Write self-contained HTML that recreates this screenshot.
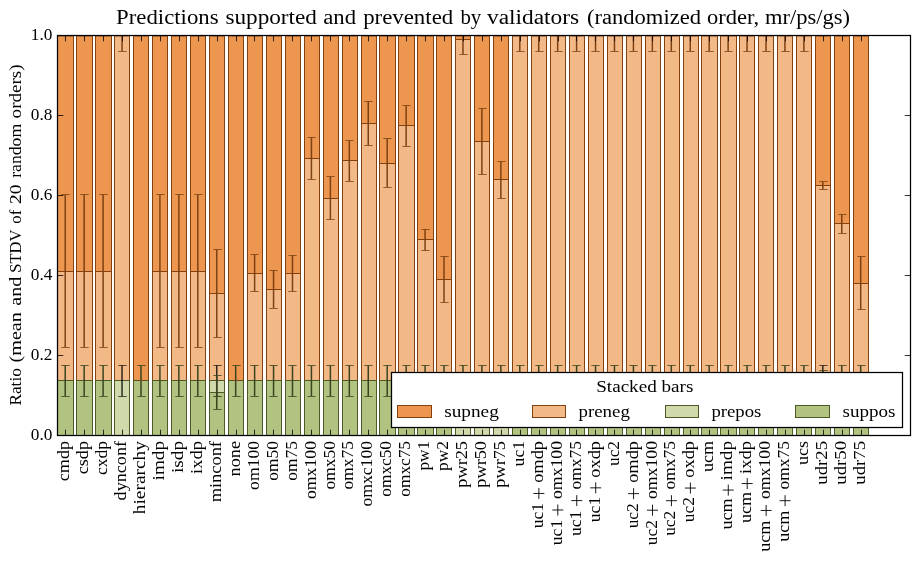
<!DOCTYPE html>
<html><head><meta charset="utf-8"><title>chart</title>
<style>html,body{margin:0;padding:0;background:#fff;}svg{display:block;}text{font-family:"Liberation Serif",serif;fill:#000;}</style></head><body>
<svg width="919" height="562" viewBox="0 0 919 562">
<rect x="0" y="0" width="919" height="562" fill="#fff"/>
<defs><clipPath id="ax"><rect x="57.50" y="35.50" width="853.00" height="400.00"/></clipPath></defs>
<g clip-path="url(#ax)">
<rect x="57.5" y="35.9" width="16.0" height="235.6" fill="#EC9650" stroke="#82410F" stroke-width="1"/>
<rect x="57.5" y="271.5" width="16.0" height="109.0" fill="#F2B987" stroke="#82410F" stroke-width="1"/>
<rect x="57.5" y="380.5" width="16.0" height="55.0" fill="#B2C280" stroke="#4C5A28" stroke-width="1"/>
<rect x="76.5" y="35.9" width="16.0" height="235.6" fill="#EC9650" stroke="#82410F" stroke-width="1"/>
<rect x="76.5" y="271.5" width="16.0" height="109.0" fill="#F2B987" stroke="#82410F" stroke-width="1"/>
<rect x="76.5" y="380.5" width="16.0" height="55.0" fill="#B2C280" stroke="#4C5A28" stroke-width="1"/>
<rect x="95.5" y="35.9" width="16.0" height="235.6" fill="#EC9650" stroke="#82410F" stroke-width="1"/>
<rect x="95.5" y="271.5" width="16.0" height="109.0" fill="#F2B987" stroke="#82410F" stroke-width="1"/>
<rect x="95.5" y="380.5" width="16.0" height="55.0" fill="#B2C280" stroke="#4C5A28" stroke-width="1"/>
<rect x="114.5" y="35.9" width="15.0" height="344.6" fill="#F2B987" stroke="#82410F" stroke-width="1"/>
<rect x="114.5" y="380.5" width="15.0" height="55.0" fill="#D0D9AC" stroke="#4C5A28" stroke-width="1"/>
<rect x="133.5" y="35.9" width="15.0" height="344.6" fill="#EC9650" stroke="#82410F" stroke-width="1"/>
<rect x="133.5" y="380.5" width="15.0" height="55.0" fill="#B2C280" stroke="#4C5A28" stroke-width="1"/>
<rect x="152.5" y="35.9" width="15.0" height="235.6" fill="#EC9650" stroke="#82410F" stroke-width="1"/>
<rect x="152.5" y="271.5" width="15.0" height="109.0" fill="#F2B987" stroke="#82410F" stroke-width="1"/>
<rect x="152.5" y="380.5" width="15.0" height="55.0" fill="#B2C280" stroke="#4C5A28" stroke-width="1"/>
<rect x="171.5" y="35.9" width="15.0" height="235.6" fill="#EC9650" stroke="#82410F" stroke-width="1"/>
<rect x="171.5" y="271.5" width="15.0" height="109.0" fill="#F2B987" stroke="#82410F" stroke-width="1"/>
<rect x="171.5" y="380.5" width="15.0" height="55.0" fill="#B2C280" stroke="#4C5A28" stroke-width="1"/>
<rect x="190.5" y="35.9" width="15.0" height="235.6" fill="#EC9650" stroke="#82410F" stroke-width="1"/>
<rect x="190.5" y="271.5" width="15.0" height="109.0" fill="#F2B987" stroke="#82410F" stroke-width="1"/>
<rect x="190.5" y="380.5" width="15.0" height="55.0" fill="#B2C280" stroke="#4C5A28" stroke-width="1"/>
<rect x="209.5" y="35.9" width="15.0" height="257.6" fill="#EC9650" stroke="#82410F" stroke-width="1"/>
<rect x="209.5" y="293.5" width="15.0" height="87.0" fill="#F2B987" stroke="#82410F" stroke-width="1"/>
<rect x="209.5" y="392.5" width="15.0" height="43.0" fill="#B2C280" stroke="#4C5A28" stroke-width="1"/>
<rect x="209.5" y="380.5" width="15.0" height="12.0" fill="#D0D9AC" stroke="#4C5A28" stroke-width="1"/>
<rect x="228.5" y="35.9" width="15.0" height="344.6" fill="#EC9650" stroke="#82410F" stroke-width="1"/>
<rect x="228.5" y="380.5" width="15.0" height="55.0" fill="#B2C280" stroke="#4C5A28" stroke-width="1"/>
<rect x="247.5" y="35.9" width="15.0" height="237.6" fill="#EC9650" stroke="#82410F" stroke-width="1"/>
<rect x="247.5" y="273.5" width="15.0" height="107.0" fill="#F2B987" stroke="#82410F" stroke-width="1"/>
<rect x="247.5" y="380.5" width="15.0" height="55.0" fill="#B2C280" stroke="#4C5A28" stroke-width="1"/>
<rect x="266.5" y="35.9" width="15.0" height="253.6" fill="#EC9650" stroke="#82410F" stroke-width="1"/>
<rect x="266.5" y="289.5" width="15.0" height="91.0" fill="#F2B987" stroke="#82410F" stroke-width="1"/>
<rect x="266.5" y="380.5" width="15.0" height="55.0" fill="#B2C280" stroke="#4C5A28" stroke-width="1"/>
<rect x="285.5" y="35.9" width="15.0" height="237.6" fill="#EC9650" stroke="#82410F" stroke-width="1"/>
<rect x="285.5" y="273.5" width="15.0" height="107.0" fill="#F2B987" stroke="#82410F" stroke-width="1"/>
<rect x="285.5" y="380.5" width="15.0" height="55.0" fill="#B2C280" stroke="#4C5A28" stroke-width="1"/>
<rect x="304.5" y="35.9" width="15.0" height="122.6" fill="#EC9650" stroke="#82410F" stroke-width="1"/>
<rect x="304.5" y="158.5" width="15.0" height="222.0" fill="#F2B987" stroke="#82410F" stroke-width="1"/>
<rect x="304.5" y="380.5" width="15.0" height="55.0" fill="#B2C280" stroke="#4C5A28" stroke-width="1"/>
<rect x="323.5" y="35.9" width="15.0" height="162.6" fill="#EC9650" stroke="#82410F" stroke-width="1"/>
<rect x="323.5" y="198.5" width="15.0" height="182.0" fill="#F2B987" stroke="#82410F" stroke-width="1"/>
<rect x="323.5" y="380.5" width="15.0" height="55.0" fill="#B2C280" stroke="#4C5A28" stroke-width="1"/>
<rect x="342.5" y="35.9" width="15.0" height="124.6" fill="#EC9650" stroke="#82410F" stroke-width="1"/>
<rect x="342.5" y="160.5" width="15.0" height="220.0" fill="#F2B987" stroke="#82410F" stroke-width="1"/>
<rect x="342.5" y="380.5" width="15.0" height="55.0" fill="#B2C280" stroke="#4C5A28" stroke-width="1"/>
<rect x="361.5" y="35.9" width="15.0" height="87.6" fill="#EC9650" stroke="#82410F" stroke-width="1"/>
<rect x="361.5" y="123.5" width="15.0" height="257.0" fill="#F2B987" stroke="#82410F" stroke-width="1"/>
<rect x="361.5" y="380.5" width="15.0" height="55.0" fill="#B2C280" stroke="#4C5A28" stroke-width="1"/>
<rect x="379.5" y="35.9" width="16.0" height="127.6" fill="#EC9650" stroke="#82410F" stroke-width="1"/>
<rect x="379.5" y="163.5" width="16.0" height="217.0" fill="#F2B987" stroke="#82410F" stroke-width="1"/>
<rect x="379.5" y="380.5" width="16.0" height="55.0" fill="#B2C280" stroke="#4C5A28" stroke-width="1"/>
<rect x="398.5" y="35.9" width="16.0" height="89.6" fill="#EC9650" stroke="#82410F" stroke-width="1"/>
<rect x="398.5" y="125.5" width="16.0" height="255.0" fill="#F2B987" stroke="#82410F" stroke-width="1"/>
<rect x="398.5" y="380.5" width="16.0" height="55.0" fill="#B2C280" stroke="#4C5A28" stroke-width="1"/>
<rect x="417.5" y="35.9" width="16.0" height="203.6" fill="#EC9650" stroke="#82410F" stroke-width="1"/>
<rect x="417.5" y="239.5" width="16.0" height="141.0" fill="#F2B987" stroke="#82410F" stroke-width="1"/>
<rect x="417.5" y="380.5" width="16.0" height="55.0" fill="#B2C280" stroke="#4C5A28" stroke-width="1"/>
<rect x="436.5" y="35.9" width="15.0" height="243.6" fill="#EC9650" stroke="#82410F" stroke-width="1"/>
<rect x="436.5" y="279.5" width="15.0" height="101.0" fill="#F2B987" stroke="#82410F" stroke-width="1"/>
<rect x="436.5" y="380.5" width="15.0" height="55.0" fill="#B2C280" stroke="#4C5A28" stroke-width="1"/>
<rect x="455.5" y="35.9" width="15.0" height="3.6" fill="#EC9650" stroke="#82410F" stroke-width="1"/>
<rect x="455.5" y="39.5" width="15.0" height="341.0" fill="#F2B987" stroke="#82410F" stroke-width="1"/>
<rect x="455.5" y="380.5" width="15.0" height="55.0" fill="#D0D9AC" stroke="#4C5A28" stroke-width="1"/>
<rect x="474.5" y="35.9" width="15.0" height="105.6" fill="#EC9650" stroke="#82410F" stroke-width="1"/>
<rect x="474.5" y="141.5" width="15.0" height="239.0" fill="#F2B987" stroke="#82410F" stroke-width="1"/>
<rect x="474.5" y="380.5" width="15.0" height="55.0" fill="#D0D9AC" stroke="#4C5A28" stroke-width="1"/>
<rect x="493.5" y="35.9" width="15.0" height="143.6" fill="#EC9650" stroke="#82410F" stroke-width="1"/>
<rect x="493.5" y="179.5" width="15.0" height="201.0" fill="#F2B987" stroke="#82410F" stroke-width="1"/>
<rect x="493.5" y="380.5" width="15.0" height="55.0" fill="#D0D9AC" stroke="#4C5A28" stroke-width="1"/>
<rect x="512.5" y="35.9" width="15.0" height="344.6" fill="#F2B987" stroke="#82410F" stroke-width="1"/>
<rect x="512.5" y="380.5" width="15.0" height="55.0" fill="#B2C280" stroke="#4C5A28" stroke-width="1"/>
<rect x="531.5" y="35.9" width="15.0" height="344.6" fill="#F2B987" stroke="#82410F" stroke-width="1"/>
<rect x="531.5" y="380.5" width="15.0" height="55.0" fill="#B2C280" stroke="#4C5A28" stroke-width="1"/>
<rect x="550.5" y="35.9" width="15.0" height="344.6" fill="#F2B987" stroke="#82410F" stroke-width="1"/>
<rect x="550.5" y="380.5" width="15.0" height="55.0" fill="#B2C280" stroke="#4C5A28" stroke-width="1"/>
<rect x="569.5" y="35.9" width="15.0" height="344.6" fill="#F2B987" stroke="#82410F" stroke-width="1"/>
<rect x="569.5" y="380.5" width="15.0" height="55.0" fill="#B2C280" stroke="#4C5A28" stroke-width="1"/>
<rect x="588.5" y="35.9" width="15.0" height="344.6" fill="#F2B987" stroke="#82410F" stroke-width="1"/>
<rect x="588.5" y="380.5" width="15.0" height="55.0" fill="#B2C280" stroke="#4C5A28" stroke-width="1"/>
<rect x="607.5" y="35.9" width="15.0" height="344.6" fill="#F2B987" stroke="#82410F" stroke-width="1"/>
<rect x="607.5" y="380.5" width="15.0" height="55.0" fill="#B2C280" stroke="#4C5A28" stroke-width="1"/>
<rect x="626.5" y="35.9" width="15.0" height="344.6" fill="#F2B987" stroke="#82410F" stroke-width="1"/>
<rect x="626.5" y="380.5" width="15.0" height="55.0" fill="#B2C280" stroke="#4C5A28" stroke-width="1"/>
<rect x="645.5" y="35.9" width="15.0" height="344.6" fill="#F2B987" stroke="#82410F" stroke-width="1"/>
<rect x="645.5" y="380.5" width="15.0" height="55.0" fill="#B2C280" stroke="#4C5A28" stroke-width="1"/>
<rect x="664.5" y="35.9" width="15.0" height="344.6" fill="#F2B987" stroke="#82410F" stroke-width="1"/>
<rect x="664.5" y="380.5" width="15.0" height="55.0" fill="#B2C280" stroke="#4C5A28" stroke-width="1"/>
<rect x="683.5" y="35.9" width="15.0" height="344.6" fill="#F2B987" stroke="#82410F" stroke-width="1"/>
<rect x="683.5" y="380.5" width="15.0" height="55.0" fill="#B2C280" stroke="#4C5A28" stroke-width="1"/>
<rect x="701.5" y="35.9" width="16.0" height="344.6" fill="#F2B987" stroke="#82410F" stroke-width="1"/>
<rect x="701.5" y="380.5" width="16.0" height="55.0" fill="#B2C280" stroke="#4C5A28" stroke-width="1"/>
<rect x="720.5" y="35.9" width="16.0" height="344.6" fill="#F2B987" stroke="#82410F" stroke-width="1"/>
<rect x="720.5" y="380.5" width="16.0" height="55.0" fill="#B2C280" stroke="#4C5A28" stroke-width="1"/>
<rect x="739.5" y="35.9" width="15.0" height="344.6" fill="#F2B987" stroke="#82410F" stroke-width="1"/>
<rect x="739.5" y="380.5" width="15.0" height="55.0" fill="#B2C280" stroke="#4C5A28" stroke-width="1"/>
<rect x="758.5" y="35.9" width="15.0" height="344.6" fill="#F2B987" stroke="#82410F" stroke-width="1"/>
<rect x="758.5" y="380.5" width="15.0" height="55.0" fill="#B2C280" stroke="#4C5A28" stroke-width="1"/>
<rect x="777.5" y="35.9" width="15.0" height="344.6" fill="#F2B987" stroke="#82410F" stroke-width="1"/>
<rect x="777.5" y="380.5" width="15.0" height="55.0" fill="#B2C280" stroke="#4C5A28" stroke-width="1"/>
<rect x="796.5" y="35.9" width="15.0" height="344.6" fill="#F2B987" stroke="#82410F" stroke-width="1"/>
<rect x="796.5" y="380.5" width="15.0" height="55.0" fill="#B2C280" stroke="#4C5A28" stroke-width="1"/>
<rect x="815.5" y="35.9" width="15.0" height="149.6" fill="#EC9650" stroke="#82410F" stroke-width="1"/>
<rect x="815.5" y="185.5" width="15.0" height="195.0" fill="#F2B987" stroke="#82410F" stroke-width="1"/>
<rect x="815.5" y="380.5" width="15.0" height="55.0" fill="#B2C280" stroke="#4C5A28" stroke-width="1"/>
<rect x="834.5" y="35.9" width="15.0" height="187.6" fill="#EC9650" stroke="#82410F" stroke-width="1"/>
<rect x="834.5" y="223.5" width="15.0" height="157.0" fill="#F2B987" stroke="#82410F" stroke-width="1"/>
<rect x="834.5" y="380.5" width="15.0" height="55.0" fill="#B2C280" stroke="#4C5A28" stroke-width="1"/>
<rect x="853.5" y="35.9" width="15.0" height="247.6" fill="#EC9650" stroke="#82410F" stroke-width="1"/>
<rect x="853.5" y="283.5" width="15.0" height="97.0" fill="#F2B987" stroke="#82410F" stroke-width="1"/>
<rect x="853.5" y="380.5" width="15.0" height="55.0" fill="#B2C280" stroke="#4C5A28" stroke-width="1"/>
<line x1="65.22" y1="365.4" x2="65.22" y2="396.3" stroke="#3A4520" stroke-width="1.50"/>
<line x1="61.3" y1="365.5" x2="69.7" y2="365.5" stroke="#3A4520" stroke-width="0.8"/>
<line x1="61.3" y1="396.5" x2="69.7" y2="396.5" stroke="#3A4520" stroke-width="0.8"/>
<line x1="65.22" y1="194.5" x2="65.22" y2="347.3" stroke="#7E4212" stroke-width="1.50"/>
<line x1="61.3" y1="194.5" x2="69.7" y2="194.5" stroke="#7E4212" stroke-width="0.8"/>
<line x1="61.3" y1="347.5" x2="69.7" y2="347.5" stroke="#7E4212" stroke-width="0.8"/>
<line x1="84.16" y1="365.4" x2="84.16" y2="396.3" stroke="#3A4520" stroke-width="1.50"/>
<line x1="80.3" y1="365.5" x2="88.7" y2="365.5" stroke="#3A4520" stroke-width="0.8"/>
<line x1="80.3" y1="396.5" x2="88.7" y2="396.5" stroke="#3A4520" stroke-width="0.8"/>
<line x1="84.16" y1="194.5" x2="84.16" y2="347.3" stroke="#7E4212" stroke-width="1.50"/>
<line x1="80.3" y1="194.5" x2="88.7" y2="194.5" stroke="#7E4212" stroke-width="0.8"/>
<line x1="80.3" y1="347.5" x2="88.7" y2="347.5" stroke="#7E4212" stroke-width="0.8"/>
<line x1="103.10" y1="365.4" x2="103.10" y2="396.3" stroke="#3A4520" stroke-width="1.50"/>
<line x1="99.3" y1="365.5" x2="107.7" y2="365.5" stroke="#3A4520" stroke-width="0.8"/>
<line x1="99.3" y1="396.5" x2="107.7" y2="396.5" stroke="#3A4520" stroke-width="0.8"/>
<line x1="103.10" y1="194.5" x2="103.10" y2="347.3" stroke="#7E4212" stroke-width="1.50"/>
<line x1="99.3" y1="194.5" x2="107.7" y2="194.5" stroke="#7E4212" stroke-width="0.8"/>
<line x1="99.3" y1="347.5" x2="107.7" y2="347.5" stroke="#7E4212" stroke-width="0.8"/>
<line x1="122.04" y1="365.4" x2="122.04" y2="396.3" stroke="rgba(0,0,0,0.8)" stroke-width="1.50"/>
<line x1="118.3" y1="365.5" x2="126.7" y2="365.5" stroke="rgba(0,0,0,0.8)" stroke-width="0.8"/>
<line x1="118.3" y1="396.5" x2="126.7" y2="396.5" stroke="rgba(0,0,0,0.8)" stroke-width="0.8"/>
<line x1="122.04" y1="19.0" x2="122.04" y2="51.2" stroke="#7E4212" stroke-width="1.50"/>
<line x1="118.3" y1="19.5" x2="126.7" y2="19.5" stroke="#7E4212" stroke-width="0.8"/>
<line x1="118.3" y1="51.5" x2="126.7" y2="51.5" stroke="#7E4212" stroke-width="0.8"/>
<line x1="140.98" y1="365.4" x2="140.98" y2="396.3" stroke="#3A4520" stroke-width="1.50"/>
<line x1="137.3" y1="365.5" x2="145.7" y2="365.5" stroke="#3A4520" stroke-width="0.8"/>
<line x1="137.3" y1="396.5" x2="145.7" y2="396.5" stroke="#3A4520" stroke-width="0.8"/>
<line x1="137.3" y1="380.5" x2="145.7" y2="380.5" stroke="#7E4212" stroke-width="0.8"/>
<line x1="159.92" y1="365.4" x2="159.92" y2="396.3" stroke="#3A4520" stroke-width="1.50"/>
<line x1="156.3" y1="365.5" x2="164.7" y2="365.5" stroke="#3A4520" stroke-width="0.8"/>
<line x1="156.3" y1="396.5" x2="164.7" y2="396.5" stroke="#3A4520" stroke-width="0.8"/>
<line x1="159.92" y1="194.5" x2="159.92" y2="347.3" stroke="#7E4212" stroke-width="1.50"/>
<line x1="156.3" y1="194.5" x2="164.7" y2="194.5" stroke="#7E4212" stroke-width="0.8"/>
<line x1="156.3" y1="347.5" x2="164.7" y2="347.5" stroke="#7E4212" stroke-width="0.8"/>
<line x1="178.86" y1="365.4" x2="178.86" y2="396.3" stroke="#3A4520" stroke-width="1.50"/>
<line x1="175.3" y1="365.5" x2="183.7" y2="365.5" stroke="#3A4520" stroke-width="0.8"/>
<line x1="175.3" y1="396.5" x2="183.7" y2="396.5" stroke="#3A4520" stroke-width="0.8"/>
<line x1="178.86" y1="194.5" x2="178.86" y2="347.3" stroke="#7E4212" stroke-width="1.50"/>
<line x1="175.3" y1="194.5" x2="183.7" y2="194.5" stroke="#7E4212" stroke-width="0.8"/>
<line x1="175.3" y1="347.5" x2="183.7" y2="347.5" stroke="#7E4212" stroke-width="0.8"/>
<line x1="197.80" y1="365.4" x2="197.80" y2="396.3" stroke="#3A4520" stroke-width="1.50"/>
<line x1="194.3" y1="365.5" x2="202.7" y2="365.5" stroke="#3A4520" stroke-width="0.8"/>
<line x1="194.3" y1="396.5" x2="202.7" y2="396.5" stroke="#3A4520" stroke-width="0.8"/>
<line x1="197.80" y1="194.5" x2="197.80" y2="347.3" stroke="#7E4212" stroke-width="1.50"/>
<line x1="194.3" y1="194.5" x2="202.7" y2="194.5" stroke="#7E4212" stroke-width="0.8"/>
<line x1="194.3" y1="347.5" x2="202.7" y2="347.5" stroke="#7E4212" stroke-width="0.8"/>
<line x1="216.74" y1="365.4" x2="216.74" y2="396.3" stroke="rgba(0,0,0,0.8)" stroke-width="1.50"/>
<line x1="213.3" y1="365.5" x2="221.7" y2="365.5" stroke="rgba(0,0,0,0.8)" stroke-width="0.8"/>
<line x1="213.3" y1="396.5" x2="221.7" y2="396.5" stroke="rgba(0,0,0,0.8)" stroke-width="0.8"/>
<line x1="216.74" y1="375.4" x2="216.74" y2="409.2" stroke="#3A4520" stroke-width="1.50"/>
<line x1="213.3" y1="375.5" x2="221.7" y2="375.5" stroke="#3A4520" stroke-width="0.8"/>
<line x1="213.3" y1="409.5" x2="221.7" y2="409.5" stroke="#3A4520" stroke-width="0.8"/>
<line x1="216.74" y1="249.4" x2="216.74" y2="337.4" stroke="#7E4212" stroke-width="1.50"/>
<line x1="213.3" y1="249.5" x2="221.7" y2="249.5" stroke="#7E4212" stroke-width="0.8"/>
<line x1="213.3" y1="337.5" x2="221.7" y2="337.5" stroke="#7E4212" stroke-width="0.8"/>
<line x1="235.68" y1="365.4" x2="235.68" y2="396.3" stroke="#3A4520" stroke-width="1.50"/>
<line x1="232.3" y1="365.5" x2="240.7" y2="365.5" stroke="#3A4520" stroke-width="0.8"/>
<line x1="232.3" y1="396.5" x2="240.7" y2="396.5" stroke="#3A4520" stroke-width="0.8"/>
<line x1="232.3" y1="380.5" x2="240.7" y2="380.5" stroke="#7E4212" stroke-width="0.8"/>
<line x1="254.62" y1="365.4" x2="254.62" y2="396.3" stroke="#3A4520" stroke-width="1.50"/>
<line x1="250.3" y1="365.5" x2="258.7" y2="365.5" stroke="#3A4520" stroke-width="0.8"/>
<line x1="250.3" y1="396.5" x2="258.7" y2="396.5" stroke="#3A4520" stroke-width="0.8"/>
<line x1="254.62" y1="254.4" x2="254.62" y2="291.2" stroke="#7E4212" stroke-width="1.50"/>
<line x1="250.3" y1="254.5" x2="258.7" y2="254.5" stroke="#7E4212" stroke-width="0.8"/>
<line x1="250.3" y1="291.5" x2="258.7" y2="291.5" stroke="#7E4212" stroke-width="0.8"/>
<line x1="273.56" y1="365.4" x2="273.56" y2="396.3" stroke="#3A4520" stroke-width="1.50"/>
<line x1="269.3" y1="365.5" x2="277.7" y2="365.5" stroke="#3A4520" stroke-width="0.8"/>
<line x1="269.3" y1="396.5" x2="277.7" y2="396.5" stroke="#3A4520" stroke-width="0.8"/>
<line x1="273.56" y1="270.3" x2="273.56" y2="308.1" stroke="#7E4212" stroke-width="1.50"/>
<line x1="269.3" y1="270.5" x2="277.7" y2="270.5" stroke="#7E4212" stroke-width="0.8"/>
<line x1="269.3" y1="308.5" x2="277.7" y2="308.5" stroke="#7E4212" stroke-width="0.8"/>
<line x1="292.50" y1="365.4" x2="292.50" y2="396.3" stroke="#3A4520" stroke-width="1.50"/>
<line x1="288.3" y1="365.5" x2="296.7" y2="365.5" stroke="#3A4520" stroke-width="0.8"/>
<line x1="288.3" y1="396.5" x2="296.7" y2="396.5" stroke="#3A4520" stroke-width="0.8"/>
<line x1="292.50" y1="255.0" x2="292.50" y2="291.2" stroke="#7E4212" stroke-width="1.50"/>
<line x1="288.3" y1="255.5" x2="296.7" y2="255.5" stroke="#7E4212" stroke-width="0.8"/>
<line x1="288.3" y1="291.5" x2="296.7" y2="291.5" stroke="#7E4212" stroke-width="0.8"/>
<line x1="311.44" y1="365.4" x2="311.44" y2="396.3" stroke="#3A4520" stroke-width="1.50"/>
<line x1="307.3" y1="365.5" x2="315.7" y2="365.5" stroke="#3A4520" stroke-width="0.8"/>
<line x1="307.3" y1="396.5" x2="315.7" y2="396.5" stroke="#3A4520" stroke-width="0.8"/>
<line x1="311.44" y1="137.2" x2="311.44" y2="179.2" stroke="#7E4212" stroke-width="1.50"/>
<line x1="307.3" y1="137.5" x2="315.7" y2="137.5" stroke="#7E4212" stroke-width="0.8"/>
<line x1="307.3" y1="179.5" x2="315.7" y2="179.5" stroke="#7E4212" stroke-width="0.8"/>
<line x1="330.38" y1="365.4" x2="330.38" y2="396.3" stroke="#3A4520" stroke-width="1.50"/>
<line x1="326.3" y1="365.5" x2="334.7" y2="365.5" stroke="#3A4520" stroke-width="0.8"/>
<line x1="326.3" y1="396.5" x2="334.7" y2="396.5" stroke="#3A4520" stroke-width="0.8"/>
<line x1="330.38" y1="176.4" x2="330.38" y2="219.6" stroke="#7E4212" stroke-width="1.50"/>
<line x1="326.3" y1="176.5" x2="334.7" y2="176.5" stroke="#7E4212" stroke-width="0.8"/>
<line x1="326.3" y1="219.5" x2="334.7" y2="219.5" stroke="#7E4212" stroke-width="0.8"/>
<line x1="349.32" y1="365.4" x2="349.32" y2="396.3" stroke="#3A4520" stroke-width="1.50"/>
<line x1="345.3" y1="365.5" x2="353.7" y2="365.5" stroke="#3A4520" stroke-width="0.8"/>
<line x1="345.3" y1="396.5" x2="353.7" y2="396.5" stroke="#3A4520" stroke-width="0.8"/>
<line x1="349.32" y1="140.5" x2="349.32" y2="181.2" stroke="#7E4212" stroke-width="1.50"/>
<line x1="345.3" y1="140.5" x2="353.7" y2="140.5" stroke="#7E4212" stroke-width="0.8"/>
<line x1="345.3" y1="181.5" x2="353.7" y2="181.5" stroke="#7E4212" stroke-width="0.8"/>
<line x1="368.26" y1="365.4" x2="368.26" y2="396.3" stroke="#3A4520" stroke-width="1.50"/>
<line x1="364.3" y1="365.5" x2="372.7" y2="365.5" stroke="#3A4520" stroke-width="0.8"/>
<line x1="364.3" y1="396.5" x2="372.7" y2="396.5" stroke="#3A4520" stroke-width="0.8"/>
<line x1="368.26" y1="101.3" x2="368.26" y2="145.5" stroke="#7E4212" stroke-width="1.50"/>
<line x1="364.3" y1="101.5" x2="372.7" y2="101.5" stroke="#7E4212" stroke-width="0.8"/>
<line x1="364.3" y1="145.5" x2="372.7" y2="145.5" stroke="#7E4212" stroke-width="0.8"/>
<line x1="387.20" y1="365.4" x2="387.20" y2="396.3" stroke="#3A4520" stroke-width="1.50"/>
<line x1="383.3" y1="365.5" x2="391.7" y2="365.5" stroke="#3A4520" stroke-width="0.8"/>
<line x1="383.3" y1="396.5" x2="391.7" y2="396.5" stroke="#3A4520" stroke-width="0.8"/>
<line x1="387.20" y1="138.3" x2="387.20" y2="187.3" stroke="#7E4212" stroke-width="1.50"/>
<line x1="383.3" y1="138.5" x2="391.7" y2="138.5" stroke="#7E4212" stroke-width="0.8"/>
<line x1="383.3" y1="187.5" x2="391.7" y2="187.5" stroke="#7E4212" stroke-width="0.8"/>
<line x1="406.14" y1="365.4" x2="406.14" y2="396.3" stroke="#3A4520" stroke-width="1.50"/>
<line x1="402.3" y1="365.5" x2="410.7" y2="365.5" stroke="#3A4520" stroke-width="0.8"/>
<line x1="402.3" y1="396.5" x2="410.7" y2="396.5" stroke="#3A4520" stroke-width="0.8"/>
<line x1="406.14" y1="105.2" x2="406.14" y2="146.4" stroke="#7E4212" stroke-width="1.50"/>
<line x1="402.3" y1="105.5" x2="410.7" y2="105.5" stroke="#7E4212" stroke-width="0.8"/>
<line x1="402.3" y1="146.5" x2="410.7" y2="146.5" stroke="#7E4212" stroke-width="0.8"/>
<line x1="425.08" y1="365.4" x2="425.08" y2="396.3" stroke="#3A4520" stroke-width="1.50"/>
<line x1="421.3" y1="365.5" x2="429.7" y2="365.5" stroke="#3A4520" stroke-width="0.8"/>
<line x1="421.3" y1="396.5" x2="429.7" y2="396.5" stroke="#3A4520" stroke-width="0.8"/>
<line x1="425.08" y1="229.2" x2="425.08" y2="250.5" stroke="#7E4212" stroke-width="1.50"/>
<line x1="421.3" y1="229.5" x2="429.7" y2="229.5" stroke="#7E4212" stroke-width="0.8"/>
<line x1="421.3" y1="250.5" x2="429.7" y2="250.5" stroke="#7E4212" stroke-width="0.8"/>
<line x1="444.02" y1="365.4" x2="444.02" y2="396.3" stroke="#3A4520" stroke-width="1.50"/>
<line x1="440.3" y1="365.5" x2="448.7" y2="365.5" stroke="#3A4520" stroke-width="0.8"/>
<line x1="440.3" y1="396.5" x2="448.7" y2="396.5" stroke="#3A4520" stroke-width="0.8"/>
<line x1="444.02" y1="256.4" x2="444.02" y2="302.3" stroke="#7E4212" stroke-width="1.50"/>
<line x1="440.3" y1="256.5" x2="448.7" y2="256.5" stroke="#7E4212" stroke-width="0.8"/>
<line x1="440.3" y1="302.5" x2="448.7" y2="302.5" stroke="#7E4212" stroke-width="0.8"/>
<line x1="462.96" y1="365.4" x2="462.96" y2="396.3" stroke="#3A4520" stroke-width="1.50"/>
<line x1="459.3" y1="365.5" x2="467.7" y2="365.5" stroke="#3A4520" stroke-width="0.8"/>
<line x1="459.3" y1="396.5" x2="467.7" y2="396.5" stroke="#3A4520" stroke-width="0.8"/>
<line x1="462.96" y1="24.0" x2="462.96" y2="54.4" stroke="#7E4212" stroke-width="1.50"/>
<line x1="459.3" y1="24.5" x2="467.7" y2="24.5" stroke="#7E4212" stroke-width="0.8"/>
<line x1="459.3" y1="54.5" x2="467.7" y2="54.5" stroke="#7E4212" stroke-width="0.8"/>
<line x1="481.90" y1="365.4" x2="481.90" y2="396.3" stroke="#3A4520" stroke-width="1.50"/>
<line x1="478.3" y1="365.5" x2="486.7" y2="365.5" stroke="#3A4520" stroke-width="0.8"/>
<line x1="478.3" y1="396.5" x2="486.7" y2="396.5" stroke="#3A4520" stroke-width="0.8"/>
<line x1="481.90" y1="108.3" x2="481.90" y2="174.4" stroke="#7E4212" stroke-width="1.50"/>
<line x1="478.3" y1="108.5" x2="486.7" y2="108.5" stroke="#7E4212" stroke-width="0.8"/>
<line x1="478.3" y1="174.5" x2="486.7" y2="174.5" stroke="#7E4212" stroke-width="0.8"/>
<line x1="500.84" y1="365.4" x2="500.84" y2="396.3" stroke="#3A4520" stroke-width="1.50"/>
<line x1="497.3" y1="365.5" x2="505.7" y2="365.5" stroke="#3A4520" stroke-width="0.8"/>
<line x1="497.3" y1="396.5" x2="505.7" y2="396.5" stroke="#3A4520" stroke-width="0.8"/>
<line x1="500.84" y1="161.4" x2="500.84" y2="198.4" stroke="#7E4212" stroke-width="1.50"/>
<line x1="497.3" y1="161.5" x2="505.7" y2="161.5" stroke="#7E4212" stroke-width="0.8"/>
<line x1="497.3" y1="198.5" x2="505.7" y2="198.5" stroke="#7E4212" stroke-width="0.8"/>
<line x1="519.78" y1="365.4" x2="519.78" y2="396.3" stroke="#3A4520" stroke-width="1.50"/>
<line x1="516.3" y1="365.5" x2="524.7" y2="365.5" stroke="#3A4520" stroke-width="0.8"/>
<line x1="516.3" y1="396.5" x2="524.7" y2="396.5" stroke="#3A4520" stroke-width="0.8"/>
<line x1="519.78" y1="19.0" x2="519.78" y2="51.2" stroke="#7E4212" stroke-width="1.50"/>
<line x1="516.3" y1="19.5" x2="524.7" y2="19.5" stroke="#7E4212" stroke-width="0.8"/>
<line x1="516.3" y1="51.5" x2="524.7" y2="51.5" stroke="#7E4212" stroke-width="0.8"/>
<line x1="538.72" y1="365.4" x2="538.72" y2="396.3" stroke="#3A4520" stroke-width="1.50"/>
<line x1="535.3" y1="365.5" x2="543.7" y2="365.5" stroke="#3A4520" stroke-width="0.8"/>
<line x1="535.3" y1="396.5" x2="543.7" y2="396.5" stroke="#3A4520" stroke-width="0.8"/>
<line x1="538.72" y1="19.0" x2="538.72" y2="51.2" stroke="#7E4212" stroke-width="1.50"/>
<line x1="535.3" y1="19.5" x2="543.7" y2="19.5" stroke="#7E4212" stroke-width="0.8"/>
<line x1="535.3" y1="51.5" x2="543.7" y2="51.5" stroke="#7E4212" stroke-width="0.8"/>
<line x1="557.66" y1="365.4" x2="557.66" y2="396.3" stroke="#3A4520" stroke-width="1.50"/>
<line x1="554.3" y1="365.5" x2="562.7" y2="365.5" stroke="#3A4520" stroke-width="0.8"/>
<line x1="554.3" y1="396.5" x2="562.7" y2="396.5" stroke="#3A4520" stroke-width="0.8"/>
<line x1="557.66" y1="19.0" x2="557.66" y2="51.2" stroke="#7E4212" stroke-width="1.50"/>
<line x1="554.3" y1="19.5" x2="562.7" y2="19.5" stroke="#7E4212" stroke-width="0.8"/>
<line x1="554.3" y1="51.5" x2="562.7" y2="51.5" stroke="#7E4212" stroke-width="0.8"/>
<line x1="576.60" y1="365.4" x2="576.60" y2="396.3" stroke="#3A4520" stroke-width="1.50"/>
<line x1="572.3" y1="365.5" x2="580.7" y2="365.5" stroke="#3A4520" stroke-width="0.8"/>
<line x1="572.3" y1="396.5" x2="580.7" y2="396.5" stroke="#3A4520" stroke-width="0.8"/>
<line x1="576.60" y1="19.0" x2="576.60" y2="51.2" stroke="#7E4212" stroke-width="1.50"/>
<line x1="572.3" y1="19.5" x2="580.7" y2="19.5" stroke="#7E4212" stroke-width="0.8"/>
<line x1="572.3" y1="51.5" x2="580.7" y2="51.5" stroke="#7E4212" stroke-width="0.8"/>
<line x1="595.54" y1="365.4" x2="595.54" y2="396.3" stroke="#3A4520" stroke-width="1.50"/>
<line x1="591.3" y1="365.5" x2="599.7" y2="365.5" stroke="#3A4520" stroke-width="0.8"/>
<line x1="591.3" y1="396.5" x2="599.7" y2="396.5" stroke="#3A4520" stroke-width="0.8"/>
<line x1="595.54" y1="19.0" x2="595.54" y2="51.2" stroke="#7E4212" stroke-width="1.50"/>
<line x1="591.3" y1="19.5" x2="599.7" y2="19.5" stroke="#7E4212" stroke-width="0.8"/>
<line x1="591.3" y1="51.5" x2="599.7" y2="51.5" stroke="#7E4212" stroke-width="0.8"/>
<line x1="614.48" y1="365.4" x2="614.48" y2="396.3" stroke="#3A4520" stroke-width="1.50"/>
<line x1="610.3" y1="365.5" x2="618.7" y2="365.5" stroke="#3A4520" stroke-width="0.8"/>
<line x1="610.3" y1="396.5" x2="618.7" y2="396.5" stroke="#3A4520" stroke-width="0.8"/>
<line x1="614.48" y1="19.0" x2="614.48" y2="51.2" stroke="#7E4212" stroke-width="1.50"/>
<line x1="610.3" y1="19.5" x2="618.7" y2="19.5" stroke="#7E4212" stroke-width="0.8"/>
<line x1="610.3" y1="51.5" x2="618.7" y2="51.5" stroke="#7E4212" stroke-width="0.8"/>
<line x1="633.42" y1="365.4" x2="633.42" y2="396.3" stroke="#3A4520" stroke-width="1.50"/>
<line x1="629.3" y1="365.5" x2="637.7" y2="365.5" stroke="#3A4520" stroke-width="0.8"/>
<line x1="629.3" y1="396.5" x2="637.7" y2="396.5" stroke="#3A4520" stroke-width="0.8"/>
<line x1="633.42" y1="19.0" x2="633.42" y2="51.2" stroke="#7E4212" stroke-width="1.50"/>
<line x1="629.3" y1="19.5" x2="637.7" y2="19.5" stroke="#7E4212" stroke-width="0.8"/>
<line x1="629.3" y1="51.5" x2="637.7" y2="51.5" stroke="#7E4212" stroke-width="0.8"/>
<line x1="652.36" y1="365.4" x2="652.36" y2="396.3" stroke="#3A4520" stroke-width="1.50"/>
<line x1="648.3" y1="365.5" x2="656.7" y2="365.5" stroke="#3A4520" stroke-width="0.8"/>
<line x1="648.3" y1="396.5" x2="656.7" y2="396.5" stroke="#3A4520" stroke-width="0.8"/>
<line x1="652.36" y1="19.0" x2="652.36" y2="51.2" stroke="#7E4212" stroke-width="1.50"/>
<line x1="648.3" y1="19.5" x2="656.7" y2="19.5" stroke="#7E4212" stroke-width="0.8"/>
<line x1="648.3" y1="51.5" x2="656.7" y2="51.5" stroke="#7E4212" stroke-width="0.8"/>
<line x1="671.30" y1="365.4" x2="671.30" y2="396.3" stroke="#3A4520" stroke-width="1.50"/>
<line x1="667.3" y1="365.5" x2="675.7" y2="365.5" stroke="#3A4520" stroke-width="0.8"/>
<line x1="667.3" y1="396.5" x2="675.7" y2="396.5" stroke="#3A4520" stroke-width="0.8"/>
<line x1="671.30" y1="19.0" x2="671.30" y2="51.2" stroke="#7E4212" stroke-width="1.50"/>
<line x1="667.3" y1="19.5" x2="675.7" y2="19.5" stroke="#7E4212" stroke-width="0.8"/>
<line x1="667.3" y1="51.5" x2="675.7" y2="51.5" stroke="#7E4212" stroke-width="0.8"/>
<line x1="690.24" y1="365.4" x2="690.24" y2="396.3" stroke="#3A4520" stroke-width="1.50"/>
<line x1="686.3" y1="365.5" x2="694.7" y2="365.5" stroke="#3A4520" stroke-width="0.8"/>
<line x1="686.3" y1="396.5" x2="694.7" y2="396.5" stroke="#3A4520" stroke-width="0.8"/>
<line x1="690.24" y1="19.0" x2="690.24" y2="51.2" stroke="#7E4212" stroke-width="1.50"/>
<line x1="686.3" y1="19.5" x2="694.7" y2="19.5" stroke="#7E4212" stroke-width="0.8"/>
<line x1="686.3" y1="51.5" x2="694.7" y2="51.5" stroke="#7E4212" stroke-width="0.8"/>
<line x1="709.18" y1="365.4" x2="709.18" y2="396.3" stroke="#3A4520" stroke-width="1.50"/>
<line x1="705.3" y1="365.5" x2="713.7" y2="365.5" stroke="#3A4520" stroke-width="0.8"/>
<line x1="705.3" y1="396.5" x2="713.7" y2="396.5" stroke="#3A4520" stroke-width="0.8"/>
<line x1="709.18" y1="19.0" x2="709.18" y2="51.2" stroke="#7E4212" stroke-width="1.50"/>
<line x1="705.3" y1="19.5" x2="713.7" y2="19.5" stroke="#7E4212" stroke-width="0.8"/>
<line x1="705.3" y1="51.5" x2="713.7" y2="51.5" stroke="#7E4212" stroke-width="0.8"/>
<line x1="728.12" y1="365.4" x2="728.12" y2="396.3" stroke="#3A4520" stroke-width="1.50"/>
<line x1="724.3" y1="365.5" x2="732.7" y2="365.5" stroke="#3A4520" stroke-width="0.8"/>
<line x1="724.3" y1="396.5" x2="732.7" y2="396.5" stroke="#3A4520" stroke-width="0.8"/>
<line x1="728.12" y1="19.0" x2="728.12" y2="51.2" stroke="#7E4212" stroke-width="1.50"/>
<line x1="724.3" y1="19.5" x2="732.7" y2="19.5" stroke="#7E4212" stroke-width="0.8"/>
<line x1="724.3" y1="51.5" x2="732.7" y2="51.5" stroke="#7E4212" stroke-width="0.8"/>
<line x1="747.06" y1="365.4" x2="747.06" y2="396.3" stroke="#3A4520" stroke-width="1.50"/>
<line x1="743.3" y1="365.5" x2="751.7" y2="365.5" stroke="#3A4520" stroke-width="0.8"/>
<line x1="743.3" y1="396.5" x2="751.7" y2="396.5" stroke="#3A4520" stroke-width="0.8"/>
<line x1="747.06" y1="19.0" x2="747.06" y2="51.2" stroke="#7E4212" stroke-width="1.50"/>
<line x1="743.3" y1="19.5" x2="751.7" y2="19.5" stroke="#7E4212" stroke-width="0.8"/>
<line x1="743.3" y1="51.5" x2="751.7" y2="51.5" stroke="#7E4212" stroke-width="0.8"/>
<line x1="766.00" y1="365.4" x2="766.00" y2="396.3" stroke="#3A4520" stroke-width="1.50"/>
<line x1="762.3" y1="365.5" x2="770.7" y2="365.5" stroke="#3A4520" stroke-width="0.8"/>
<line x1="762.3" y1="396.5" x2="770.7" y2="396.5" stroke="#3A4520" stroke-width="0.8"/>
<line x1="766.00" y1="19.0" x2="766.00" y2="51.2" stroke="#7E4212" stroke-width="1.50"/>
<line x1="762.3" y1="19.5" x2="770.7" y2="19.5" stroke="#7E4212" stroke-width="0.8"/>
<line x1="762.3" y1="51.5" x2="770.7" y2="51.5" stroke="#7E4212" stroke-width="0.8"/>
<line x1="784.94" y1="365.4" x2="784.94" y2="396.3" stroke="#3A4520" stroke-width="1.50"/>
<line x1="781.3" y1="365.5" x2="789.7" y2="365.5" stroke="#3A4520" stroke-width="0.8"/>
<line x1="781.3" y1="396.5" x2="789.7" y2="396.5" stroke="#3A4520" stroke-width="0.8"/>
<line x1="784.94" y1="19.0" x2="784.94" y2="51.2" stroke="#7E4212" stroke-width="1.50"/>
<line x1="781.3" y1="19.5" x2="789.7" y2="19.5" stroke="#7E4212" stroke-width="0.8"/>
<line x1="781.3" y1="51.5" x2="789.7" y2="51.5" stroke="#7E4212" stroke-width="0.8"/>
<line x1="803.88" y1="365.4" x2="803.88" y2="396.3" stroke="#3A4520" stroke-width="1.50"/>
<line x1="800.3" y1="365.5" x2="808.7" y2="365.5" stroke="#3A4520" stroke-width="0.8"/>
<line x1="800.3" y1="396.5" x2="808.7" y2="396.5" stroke="#3A4520" stroke-width="0.8"/>
<line x1="803.88" y1="19.0" x2="803.88" y2="51.2" stroke="#7E4212" stroke-width="1.50"/>
<line x1="800.3" y1="19.5" x2="808.7" y2="19.5" stroke="#7E4212" stroke-width="0.8"/>
<line x1="800.3" y1="51.5" x2="808.7" y2="51.5" stroke="#7E4212" stroke-width="0.8"/>
<line x1="822.82" y1="365.4" x2="822.82" y2="396.3" stroke="rgba(0,0,0,0.8)" stroke-width="1.50"/>
<line x1="819.3" y1="365.5" x2="827.7" y2="365.5" stroke="rgba(0,0,0,0.8)" stroke-width="0.8"/>
<line x1="819.3" y1="396.5" x2="827.7" y2="396.5" stroke="rgba(0,0,0,0.8)" stroke-width="0.8"/>
<line x1="822.82" y1="370.5" x2="822.82" y2="401.5" stroke="#3A4520" stroke-width="1.50"/>
<line x1="819.3" y1="370.5" x2="827.7" y2="370.5" stroke="#3A4520" stroke-width="0.8"/>
<line x1="819.3" y1="401.5" x2="827.7" y2="401.5" stroke="#3A4520" stroke-width="0.8"/>
<line x1="822.82" y1="181.5" x2="822.82" y2="189.6" stroke="#7E4212" stroke-width="1.50"/>
<line x1="819.3" y1="181.5" x2="827.7" y2="181.5" stroke="#7E4212" stroke-width="0.8"/>
<line x1="819.3" y1="189.5" x2="827.7" y2="189.5" stroke="#7E4212" stroke-width="0.8"/>
<line x1="841.76" y1="365.4" x2="841.76" y2="396.3" stroke="#3A4520" stroke-width="1.50"/>
<line x1="838.3" y1="365.5" x2="846.7" y2="365.5" stroke="#3A4520" stroke-width="0.8"/>
<line x1="838.3" y1="396.5" x2="846.7" y2="396.5" stroke="#3A4520" stroke-width="0.8"/>
<line x1="841.76" y1="214.3" x2="841.76" y2="233.2" stroke="#7E4212" stroke-width="1.50"/>
<line x1="838.3" y1="214.5" x2="846.7" y2="214.5" stroke="#7E4212" stroke-width="0.8"/>
<line x1="838.3" y1="233.5" x2="846.7" y2="233.5" stroke="#7E4212" stroke-width="0.8"/>
<line x1="860.70" y1="365.4" x2="860.70" y2="396.3" stroke="#3A4520" stroke-width="1.50"/>
<line x1="857.3" y1="365.5" x2="865.7" y2="365.5" stroke="#3A4520" stroke-width="0.8"/>
<line x1="857.3" y1="396.5" x2="865.7" y2="396.5" stroke="#3A4520" stroke-width="0.8"/>
<line x1="860.70" y1="256.5" x2="860.70" y2="309.3" stroke="#7E4212" stroke-width="1.50"/>
<line x1="857.3" y1="256.5" x2="865.7" y2="256.5" stroke="#7E4212" stroke-width="0.8"/>
<line x1="857.3" y1="309.5" x2="865.7" y2="309.5" stroke="#7E4212" stroke-width="0.8"/>
</g>
<path d="M65.5 435.5v-5.8M65.5 35.5v5.8M84.5 435.5v-5.8M84.5 35.5v5.8M103.5 435.5v-5.8M103.5 35.5v5.8M122.5 435.5v-5.8M122.5 35.5v5.8M141.5 435.5v-5.8M141.5 35.5v5.8M160.5 435.5v-5.8M160.5 35.5v5.8M179.5 435.5v-5.8M179.5 35.5v5.8M198.5 435.5v-5.8M198.5 35.5v5.8M217.5 435.5v-5.8M217.5 35.5v5.8M236.5 435.5v-5.8M236.5 35.5v5.8M254.5 435.5v-5.8M254.5 35.5v5.8M273.5 435.5v-5.8M273.5 35.5v5.8M292.5 435.5v-5.8M292.5 35.5v5.8M311.5 435.5v-5.8M311.5 35.5v5.8M330.5 435.5v-5.8M330.5 35.5v5.8M349.5 435.5v-5.8M349.5 35.5v5.8M368.5 435.5v-5.8M368.5 35.5v5.8M387.5 435.5v-5.8M387.5 35.5v5.8M406.5 435.5v-5.8M406.5 35.5v5.8M425.5 435.5v-5.8M425.5 35.5v5.8M444.5 435.5v-5.8M444.5 35.5v5.8M463.5 435.5v-5.8M463.5 35.5v5.8M482.5 435.5v-5.8M482.5 35.5v5.8M501.5 435.5v-5.8M501.5 35.5v5.8M520.5 435.5v-5.8M520.5 35.5v5.8M539.5 435.5v-5.8M539.5 35.5v5.8M558.5 435.5v-5.8M558.5 35.5v5.8M576.5 435.5v-5.8M576.5 35.5v5.8M595.5 435.5v-5.8M595.5 35.5v5.8M614.5 435.5v-5.8M614.5 35.5v5.8M633.5 435.5v-5.8M633.5 35.5v5.8M652.5 435.5v-5.8M652.5 35.5v5.8M671.5 435.5v-5.8M671.5 35.5v5.8M690.5 435.5v-5.8M690.5 35.5v5.8M709.5 435.5v-5.8M709.5 35.5v5.8M728.5 435.5v-5.8M728.5 35.5v5.8M747.5 435.5v-5.8M747.5 35.5v5.8M766.5 435.5v-5.8M766.5 35.5v5.8M785.5 435.5v-5.8M785.5 35.5v5.8M804.5 435.5v-5.8M804.5 35.5v5.8M823.5 435.5v-5.8M823.5 35.5v5.8M842.5 435.5v-5.8M842.5 35.5v5.8M861.5 435.5v-5.8M861.5 35.5v5.8M57.5 355.5h5.8M910.5 355.5h-5.8M57.5 275.5h5.8M910.5 275.5h-5.8M57.5 195.5h5.8M910.5 195.5h-5.8M57.5 115.5h5.8M910.5 115.5h-5.8" stroke="#000" stroke-width="0.8" fill="none"/>
<rect x="57.5" y="35.5" width="853.0" height="400.0" fill="none" stroke="#000" stroke-width="1.25"/>
<rect x="391.5" y="372.5" width="511.0" height="55.0" fill="#fff" stroke="#000" stroke-width="1.25"/>
<rect x="397.5" y="405.5" width="34" height="12" fill="#EC9650" stroke="#82410F" stroke-width="1"/>
<rect x="532.5" y="405.5" width="33" height="12" fill="#F2B987" stroke="#82410F" stroke-width="1"/>
<rect x="665.5" y="405.5" width="33" height="12" fill="#D0D9AC" stroke="#4C5A28" stroke-width="1"/>
<rect x="795.5" y="405.5" width="34" height="12" fill="#B2C280" stroke="#4C5A28" stroke-width="1"/>
<g style="opacity:0.999">
<text x="596.2" y="392.0" font-size="16.67" textLength="97.2" lengthAdjust="spacingAndGlyphs">Stacked bars</text>
<text x="444.20" y="416.6" font-size="16.67" textLength="54.6" lengthAdjust="spacingAndGlyphs">supneg</text>
<text x="578.50" y="416.6" font-size="16.67" textLength="51.4" lengthAdjust="spacingAndGlyphs">preneg</text>
<text x="711.40" y="416.6" font-size="16.67" textLength="49.9" lengthAdjust="spacingAndGlyphs">prepos</text>
<text x="842.50" y="416.6" font-size="16.67" textLength="52.9" lengthAdjust="spacingAndGlyphs">suppos</text>
<text x="116.0" y="23.5" font-size="20" textLength="102.6" lengthAdjust="spacingAndGlyphs">Predictions</text>
<text x="225.4" y="23.5" font-size="20" textLength="91.6" lengthAdjust="spacingAndGlyphs">supported</text>
<text x="323.3" y="23.5" font-size="20" textLength="32.8" lengthAdjust="spacingAndGlyphs">and</text>
<text x="363.2" y="23.5" font-size="20" textLength="90.0" lengthAdjust="spacingAndGlyphs">prevented</text>
<text x="460.4" y="23.5" font-size="20" textLength="20.9" lengthAdjust="spacingAndGlyphs">by</text>
<text x="487.0" y="23.5" font-size="20" textLength="92.2" lengthAdjust="spacingAndGlyphs">validators</text>
<text x="587.0" y="23.5" font-size="20" textLength="114.0" lengthAdjust="spacingAndGlyphs">(randomized</text>
<text x="707.0" y="23.5" font-size="20" textLength="52.2" lengthAdjust="spacingAndGlyphs">order,</text>
<text x="765.1" y="23.5" font-size="20" textLength="85.0" lengthAdjust="spacingAndGlyphs">mr/ps/gs)</text>
<text transform="translate(21.1 405.6) rotate(-90)" font-size="16.67" textLength="37.5" lengthAdjust="spacingAndGlyphs">Ratio</text>
<text transform="translate(21.1 362.5) rotate(-90)" font-size="16.67" textLength="50.4" lengthAdjust="spacingAndGlyphs">(mean</text>
<text transform="translate(21.1 305.7) rotate(-90)" font-size="16.67" textLength="29.0" lengthAdjust="spacingAndGlyphs">and</text>
<text transform="translate(21.1 272.8) rotate(-90)" font-size="16.67" textLength="43.3" lengthAdjust="spacingAndGlyphs">STDV</text>
<text transform="translate(21.1 223.7) rotate(-90)" font-size="16.67" textLength="13.9" lengthAdjust="spacingAndGlyphs">of</text>
<text transform="translate(21.1 204.0) rotate(-90)" font-size="16.67" textLength="19.4" lengthAdjust="spacingAndGlyphs">20</text>
<text transform="translate(21.1 177.8) rotate(-90)" font-size="16.67" textLength="54.0" lengthAdjust="spacingAndGlyphs">random</text>
<text transform="translate(21.1 118.4) rotate(-90)" font-size="16.67" textLength="54.0" lengthAdjust="spacingAndGlyphs">orders)</text>
<text x="30.8" y="439.70" font-size="16.67" textLength="21.6" lengthAdjust="spacingAndGlyphs">0.0</text>
<text x="30.8" y="359.70" font-size="16.67" textLength="21.6" lengthAdjust="spacingAndGlyphs">0.2</text>
<text x="30.8" y="279.70" font-size="16.67" textLength="21.6" lengthAdjust="spacingAndGlyphs">0.4</text>
<text x="30.8" y="199.70" font-size="16.67" textLength="21.6" lengthAdjust="spacingAndGlyphs">0.6</text>
<text x="30.8" y="119.70" font-size="16.67" textLength="21.6" lengthAdjust="spacingAndGlyphs">0.8</text>
<text x="30.8" y="39.70" font-size="16.67" textLength="21.6" lengthAdjust="spacingAndGlyphs">1.0</text>
<text transform="translate(69.37 481.20) rotate(-90)" font-size="16.67" textLength="40.2" lengthAdjust="spacingAndGlyphs">cmdp</text>
<text transform="translate(88.31 474.30) rotate(-90)" font-size="16.67" textLength="33.3" lengthAdjust="spacingAndGlyphs">csdp</text>
<text transform="translate(107.25 475.10) rotate(-90)" font-size="16.67" textLength="34.1" lengthAdjust="spacingAndGlyphs">cxdp</text>
<text transform="translate(126.19 500.40) rotate(-90)" font-size="16.67" textLength="59.4" lengthAdjust="spacingAndGlyphs">dynconf</text>
<text transform="translate(145.13 514.30) rotate(-90)" font-size="16.67" textLength="73.3" lengthAdjust="spacingAndGlyphs">hierarchy</text>
<text transform="translate(164.07 480.40) rotate(-90)" font-size="16.67" textLength="39.4" lengthAdjust="spacingAndGlyphs">imdp</text>
<text transform="translate(183.01 473.00) rotate(-90)" font-size="16.67" textLength="32.0" lengthAdjust="spacingAndGlyphs">isdp</text>
<text transform="translate(201.95 473.90) rotate(-90)" font-size="16.67" textLength="32.9" lengthAdjust="spacingAndGlyphs">ixdp</text>
<text transform="translate(220.89 502.30) rotate(-90)" font-size="16.67" textLength="61.3" lengthAdjust="spacingAndGlyphs">minconf</text>
<text transform="translate(239.83 476.40) rotate(-90)" font-size="16.67" textLength="35.4" lengthAdjust="spacingAndGlyphs">none</text>
<text transform="translate(258.77 489.90) rotate(-90)" font-size="16.67" textLength="48.9" lengthAdjust="spacingAndGlyphs">om100</text>
<text transform="translate(277.71 480.70) rotate(-90)" font-size="16.67" textLength="39.7" lengthAdjust="spacingAndGlyphs">om50</text>
<text transform="translate(296.65 480.70) rotate(-90)" font-size="16.67" textLength="39.7" lengthAdjust="spacingAndGlyphs">om75</text>
<text transform="translate(315.59 499.00) rotate(-90)" font-size="16.67" textLength="58.0" lengthAdjust="spacingAndGlyphs">omx100</text>
<text transform="translate(334.53 489.40) rotate(-90)" font-size="16.67" textLength="48.4" lengthAdjust="spacingAndGlyphs">omx50</text>
<text transform="translate(353.47 489.40) rotate(-90)" font-size="16.67" textLength="48.4" lengthAdjust="spacingAndGlyphs">omx75</text>
<text transform="translate(372.41 506.50) rotate(-90)" font-size="16.67" textLength="65.5" lengthAdjust="spacingAndGlyphs">omxc100</text>
<text transform="translate(391.35 496.70) rotate(-90)" font-size="16.67" textLength="55.7" lengthAdjust="spacingAndGlyphs">omxc50</text>
<text transform="translate(410.29 496.70) rotate(-90)" font-size="16.67" textLength="55.7" lengthAdjust="spacingAndGlyphs">omxc75</text>
<text transform="translate(429.23 470.60) rotate(-90)" font-size="16.67" textLength="29.6" lengthAdjust="spacingAndGlyphs">pw1</text>
<text transform="translate(448.17 471.00) rotate(-90)" font-size="16.67" textLength="30.0" lengthAdjust="spacingAndGlyphs">pw2</text>
<text transform="translate(467.11 487.70) rotate(-90)" font-size="16.67" textLength="46.7" lengthAdjust="spacingAndGlyphs">pwr25</text>
<text transform="translate(486.05 487.70) rotate(-90)" font-size="16.67" textLength="46.7" lengthAdjust="spacingAndGlyphs">pwr50</text>
<text transform="translate(504.99 487.70) rotate(-90)" font-size="16.67" textLength="46.7" lengthAdjust="spacingAndGlyphs">pwr75</text>
<text transform="translate(523.93 466.40) rotate(-90)" font-size="16.67" textLength="25.4" lengthAdjust="spacingAndGlyphs">uc1</text>
<text transform="translate(542.87 528.30) rotate(-90)" font-size="16.67" textLength="25.4" lengthAdjust="spacingAndGlyphs">uc1</text>
<text transform="translate(542.87 482.80) rotate(-90)" font-size="16.67" textLength="41.8" lengthAdjust="spacingAndGlyphs">omdp</text>
<text transform="translate(561.81 545.20) rotate(-90)" font-size="16.67" textLength="25.4" lengthAdjust="spacingAndGlyphs">uc1</text>
<text transform="translate(561.81 499.00) rotate(-90)" font-size="16.67" textLength="58.0" lengthAdjust="spacingAndGlyphs">omx100</text>
<text transform="translate(580.75 536.00) rotate(-90)" font-size="16.67" textLength="25.4" lengthAdjust="spacingAndGlyphs">uc1</text>
<text transform="translate(580.75 489.40) rotate(-90)" font-size="16.67" textLength="48.4" lengthAdjust="spacingAndGlyphs">omx75</text>
<text transform="translate(599.69 522.20) rotate(-90)" font-size="16.67" textLength="25.4" lengthAdjust="spacingAndGlyphs">uc1</text>
<text transform="translate(599.69 477.70) rotate(-90)" font-size="16.67" textLength="36.7" lengthAdjust="spacingAndGlyphs">oxdp</text>
<text transform="translate(618.63 466.00) rotate(-90)" font-size="16.67" textLength="25.0" lengthAdjust="spacingAndGlyphs">uc2</text>
<text transform="translate(637.57 528.30) rotate(-90)" font-size="16.67" textLength="25.0" lengthAdjust="spacingAndGlyphs">uc2</text>
<text transform="translate(637.57 482.80) rotate(-90)" font-size="16.67" textLength="41.8" lengthAdjust="spacingAndGlyphs">omdp</text>
<text transform="translate(656.51 545.20) rotate(-90)" font-size="16.67" textLength="25.0" lengthAdjust="spacingAndGlyphs">uc2</text>
<text transform="translate(656.51 499.00) rotate(-90)" font-size="16.67" textLength="58.0" lengthAdjust="spacingAndGlyphs">omx100</text>
<text transform="translate(675.45 535.80) rotate(-90)" font-size="16.67" textLength="25.0" lengthAdjust="spacingAndGlyphs">uc2</text>
<text transform="translate(675.45 489.40) rotate(-90)" font-size="16.67" textLength="48.4" lengthAdjust="spacingAndGlyphs">omx75</text>
<text transform="translate(694.39 522.20) rotate(-90)" font-size="16.67" textLength="25.0" lengthAdjust="spacingAndGlyphs">uc2</text>
<text transform="translate(694.39 477.70) rotate(-90)" font-size="16.67" textLength="36.7" lengthAdjust="spacingAndGlyphs">oxdp</text>
<text transform="translate(713.33 472.00) rotate(-90)" font-size="16.67" textLength="31.0" lengthAdjust="spacingAndGlyphs">ucm</text>
<text transform="translate(732.27 529.50) rotate(-90)" font-size="16.67" textLength="31.0" lengthAdjust="spacingAndGlyphs">ucm</text>
<text transform="translate(732.27 480.40) rotate(-90)" font-size="16.67" textLength="39.4" lengthAdjust="spacingAndGlyphs">imdp</text>
<text transform="translate(751.21 523.00) rotate(-90)" font-size="16.67" textLength="31.0" lengthAdjust="spacingAndGlyphs">ucm</text>
<text transform="translate(751.21 473.90) rotate(-90)" font-size="16.67" textLength="32.9" lengthAdjust="spacingAndGlyphs">ixdp</text>
<text transform="translate(770.15 551.70) rotate(-90)" font-size="16.67" textLength="31.0" lengthAdjust="spacingAndGlyphs">ucm</text>
<text transform="translate(770.15 499.00) rotate(-90)" font-size="16.67" textLength="58.0" lengthAdjust="spacingAndGlyphs">omx100</text>
<text transform="translate(789.09 541.80) rotate(-90)" font-size="16.67" textLength="31.0" lengthAdjust="spacingAndGlyphs">ucm</text>
<text transform="translate(789.09 489.40) rotate(-90)" font-size="16.67" textLength="48.4" lengthAdjust="spacingAndGlyphs">omx75</text>
<text transform="translate(808.03 465.00) rotate(-90)" font-size="16.67" textLength="24.0" lengthAdjust="spacingAndGlyphs">ucs</text>
<text transform="translate(826.97 484.70) rotate(-90)" font-size="16.67" textLength="43.7" lengthAdjust="spacingAndGlyphs">udr25</text>
<text transform="translate(845.91 484.70) rotate(-90)" font-size="16.67" textLength="43.7" lengthAdjust="spacingAndGlyphs">udr50</text>
<text transform="translate(864.85 484.70) rotate(-90)" font-size="16.67" textLength="43.7" lengthAdjust="spacingAndGlyphs">udr75</text>
<path d="M533.37 493.45h11M538.87 487.95v11M552.31 510.00h11M557.81 504.50v11M571.25 500.60h11M576.75 495.10v11M590.19 487.85h11M595.69 482.35v11M628.07 493.65h11M633.57 488.15v11M647.01 510.20h11M652.51 504.70v11M665.95 500.70h11M671.45 495.20v11M684.89 488.05h11M690.39 482.55v11M722.77 490.05h11M728.27 484.55v11M741.71 483.55h11M747.21 478.05v11M760.65 510.45h11M766.15 504.95v11M779.59 500.70h11M785.09 495.20v11" stroke="#000" stroke-width="0.9" fill="none"/>
</g>
</svg></body></html>
